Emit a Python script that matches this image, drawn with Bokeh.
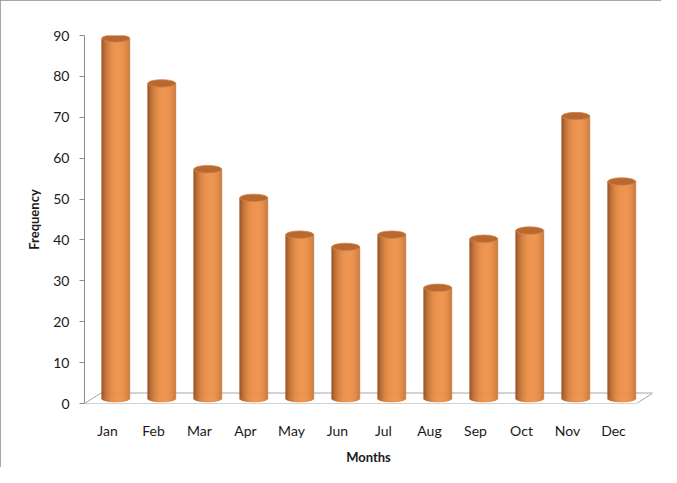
import math
from bokeh.plotting import figure
from bokeh.models import FixedTicker, Range1d
from bokeh.embed import file_html
from bokeh.resources import INLINE

# ---- data ----
months = ["Jan", "Feb", "Mar", "Apr", "May", "Jun",
          "Jul", "Aug", "Sep", "Oct", "Nov", "Dec"]
frequency = [88, 77, 56, 49, 40, 37, 40, 27, 39, 41, 69, 53]
y_ticks = [0, 10, 20, 30, 40, 50, 60, 70, 80, 90]

# ---- styling constants ----
FRAME_W, FRAME_H = 568, 368
X_START = 0.5
PX_PER_X = 46.0
X_END = X_START + FRAME_W / PX_PER_X
Y_MAX = 90
PX_PER_Y = FRAME_H / Y_MAX
DX = 16.5 / PX_PER_X          # 3D depth offset (x units)
DY = 10.5 / PX_PER_Y          # 3D depth offset (y units)
BAR_W = 28.0 / PX_PER_X
ELL_H = 7.5 / PX_PER_Y
N_STRIPS = 28
AXIS_GRAY = "#8c8c8c"
TEXT = "#1a1a1a"
FONT = "Lato"

p = figure(frame_width=FRAME_W, frame_height=FRAME_H,
           min_border_left=84, min_border_right=9,
           min_border_top=35, min_border_bottom=64,
           x_range=Range1d(X_START, X_END), y_range=Range1d(0, Y_MAX),
           output_backend="svg", toolbar_location=None,
           background_fill_color="white", border_fill_color="white")
p.outline_line_color = None
p.xgrid.grid_line_color = None
p.ygrid.grid_line_color = None
p.styles = {"outline": "1px solid #8a8a8a", "outline-offset": "-1px"}

# floor (3D base)
n = len(months)
x0, x1 = X_START, X_START + n
p.patch([x0, x1, x1 + DX, x0 + DX], [0, 0, DY, DY],
        fill_color="white", line_color="#a6a6a6", line_width=1)

# cylinders: vertical strips with shading
def shade(u):
    dark = (140, 72, 26)
    bright = (240, 148, 76)
    w = max(0.0, 1 - ((u - 0.2) / 1.2) ** 2) ** 0.8
    c = [int(d + (b - d) * w) for d, b in zip(dark, bright)]
    return "#%02x%02x%02x" % tuple(c)

sx, sb, st, sc = [], [], [], []
sw = BAR_W / N_STRIPS
for i, v in enumerate(frequency):
    xc = (i + 1) + DX / 2
    for k in range(N_STRIPS):
        u = -1 + (2 * k + 1) / N_STRIPS
        sx.append(xc - BAR_W / 2 + (k + 0.5) * sw)
        sb.append(DY / 2 - (ELL_H / 2) * math.sqrt(max(0.0, 1 - u * u)))
        st.append(v + DY / 2)
        sc.append(shade(u))
p.vbar(x=sx, width=sw * 1.1, bottom=sb, top=st,
       fill_color=sc, line_color=sc, line_width=0.5)

# top ellipses
tops_x = [(i + 1) + DX / 2 for i in range(n)]
tops_y = [v + DY / 2 for v in frequency]
p.ellipse(x=tops_x, y=tops_y, width=BAR_W, height=ELL_H,
          fill_color="#b9692f", line_color="#d0834a", line_width=0.8)

# axes
p.yaxis.ticker = FixedTicker(ticks=y_ticks)
p.yaxis.axis_line_color = AXIS_GRAY
p.yaxis.major_tick_line_color = AXIS_GRAY
p.yaxis.major_tick_out = 5
p.yaxis.major_tick_in = 0
p.yaxis.minor_tick_line_color = None
p.yaxis.major_label_standoff = 10
p.yaxis.major_label_text_font = FONT
p.yaxis.major_label_text_font_size = "14px"
p.yaxis.major_label_text_color = TEXT
p.yaxis.axis_label = "Frequency"
p.yaxis.axis_label_text_font = FONT
p.yaxis.axis_label_text_font_size = "13px"
p.yaxis.axis_label_text_font_style = "bold"
p.yaxis.axis_label_text_color = TEXT
p.yaxis.axis_label_standoff = 8

p.xaxis.ticker = FixedTicker(ticks=list(range(1, n + 1)))
p.xaxis.major_label_overrides = {i + 1: m for i, m in enumerate(months)}
p.xaxis.axis_line_color = None
p.xaxis.major_tick_line_color = None
p.xaxis.minor_tick_line_color = None
p.xaxis.major_tick_out = 0
p.xaxis.major_label_standoff = 18
p.xaxis.major_label_text_font = FONT
p.xaxis.major_label_text_font_size = "14px"
p.xaxis.major_label_text_color = TEXT
p.xaxis.axis_label = "Months"
p.xaxis.axis_label_text_font = FONT
p.xaxis.axis_label_text_font_size = "13px"
p.xaxis.axis_label_text_font_style = "bold"
p.xaxis.axis_label_text_color = TEXT
p.xaxis.axis_label_standoff = 7

open("out.html", "w").write(file_html(p, INLINE))
